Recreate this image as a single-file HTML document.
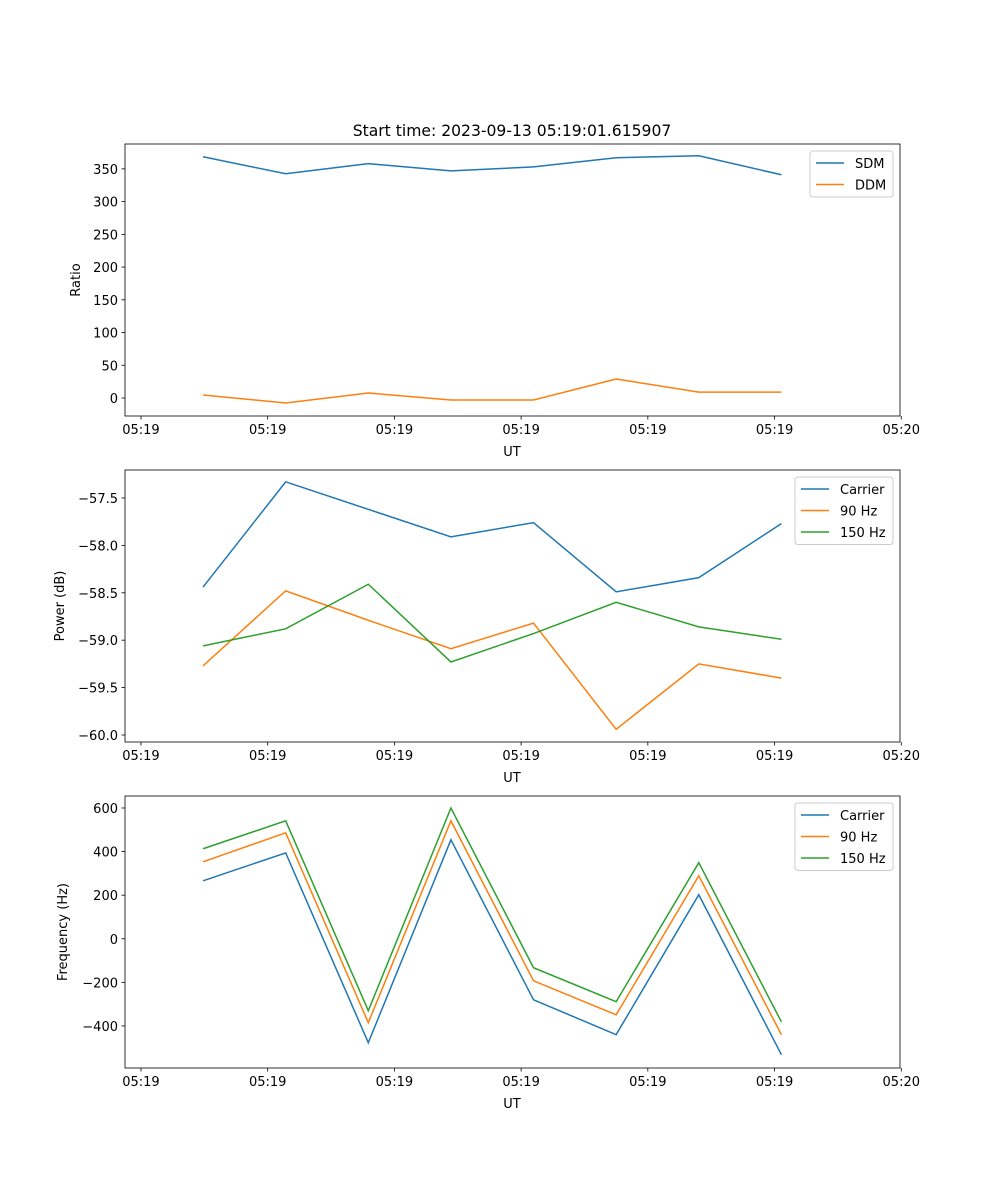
<!DOCTYPE html>
<html><head><meta charset="utf-8"><style>
html,body{margin:0;padding:0;background:#fff}
svg{display:block;font-family:"DejaVu Sans","Liberation Sans",sans-serif}
</style></head><body>
<svg id="fig" width="1000" height="1200" viewBox="0 0 1000 1200">
<text x="512" y="136" text-anchor="middle" font-size="15.6">Start time: 2023-09-13 05:19:01.615907</text>
</svg>
<script>
const times = [0, 0.652, 1.304, 1.956, 2.608, 3.26, 3.912, 4.564];
const xTickVals = [-0.49, 0.51, 1.51, 2.51, 3.51, 4.51, 5.51];
const xTickLabels = ["05:19","05:19","05:19","05:19","05:19","05:19","05:20"];
const sdm = [368.5, 342.5, 358, 347, 353, 367, 370, 341];
const ddm = [4.6, -7.6, 7.6, -3, -3, 29, 9, 9];
const ratioTicks = [0, 50, 100, 150, 200, 250, 300, 350];
const powCarrier = [-58.44, -57.33, -57.62, -57.91, -57.76, -58.49, -58.34, -57.77];
const pow90 = [-59.27, -58.48, -58.79, -59.09, -58.82, -59.94, -59.25, -59.40];
const pow150 = [-59.06, -58.88, -58.41, -59.23, -58.93, -58.60, -58.86, -58.99];
const powTicks = [-60.0, -59.5, -59.0, -58.5, -58.0, -57.5];
const freqCarrier = [266, 394, -477, 454, -280, -440, 202, -532];
const freq90 = [353, 486, -385, 541, -193, -349, 289, -440];
const freq150 = [413, 541, -330, 600, -133, -289, 349, -381];
const freqTicks = [-400, -200, 0, 200, 400, 600];

const NS = "http://www.w3.org/2000/svg";
const svg = document.getElementById('fig');
const X0 = 125, X1 = 900, XMIN = -0.616, XMAX = 5.5;
function xs(t){ return X0 + (t - XMIN) / (XMAX - XMIN) * (X1 - X0); }
function mk(tag, attrs, parent){ const e = document.createElementNS(NS, tag); for (const k in attrs) e.setAttribute(k, attrs[k]); (parent||svg).appendChild(e); return e; }
const C = ['#1f77b4','#ff7f0e','#2ca02c'];

function panel(key, top, bottom, ymin, ymax, yTicks, fmt, ylabel, series, names, legBox){
  const g = mk('g', {});
  
  
  const ys = v => bottom - (v - ymin) / (ymax - ymin) * (bottom - top);
  series.forEach((s, i) => {
    const p = mk('polyline', {points: s.map((v, j) => xs(times[j]) + ',' + ys(v)).join(' '), fill: 'none', stroke: C[i], 'stroke-width': 1.5}, g);
    
    
  });
  const fr = mk('rect', {x: X0, y: top, width: X1 - X0, height: bottom - top, fill: 'none', stroke: '#000', 'stroke-width': 0.8}, g);
  
  
  xTickVals.forEach((t, i) => {
    const x = xs(t);
    mk('line', {x1: x, x2: x, y1: bottom, y2: bottom + 3.5, stroke: '#000', 'stroke-width': 0.8}, g);
    const tx = mk('text', {x: x, y: bottom + 18, 'text-anchor': 'middle', 'font-size': 13}, g);
    tx.textContent = xTickLabels[i];
    
    
  });
  const xl = mk('text', {x: 512, y: bottom + 40, 'text-anchor': 'middle', 'font-size': 13}, g);
  xl.textContent = 'UT';
  
  
  yTicks.forEach(v => {
    const y = ys(v);
    mk('line', {x1: X0 - 3.5, x2: X0, y1: y, y2: y, stroke: '#000', 'stroke-width': 0.8}, g);
    const tx = mk('text', {x: X0 - 7, y: y + 5, 'text-anchor': 'end', 'font-size': 13}, g);
    tx.textContent = fmt(v);
    
    
  });
  const yl = mk('text', {x: legBox.ylx, y: (top + bottom) / 2, 'text-anchor': 'middle', 'font-size': 13, transform: 'rotate(-90 ' + legBox.ylx + ' ' + (top + bottom) / 2 + ')'}, g);
  yl.textContent = ylabel;
  
  
  const lg = mk('g', {}, g);
  
  
  mk('rect', {x: legBox.x, y: top + 7, width: 893 - legBox.x, height: 3 + names.length * 21.5, rx: 3, fill: '#fff', 'fill-opacity': 0.8, stroke: '#ccc', 'stroke-width': 1}, lg);
  names.forEach((n, i) => {
    const y = top + 19 + i * 21.5;
    mk('line', {x1: legBox.x + 6, x2: legBox.x + 34, y1: y, y2: y, stroke: C[i], 'stroke-width': 1.5}, lg);
    const t = mk('text', {x: legBox.x + 45, y: y + 5, 'font-size': 13}, lg);
    t.textContent = n;
    
    
  });
}
panel('ratio', 144, 416, -27.5, 388, ratioTicks, v => String(v), 'Ratio', [sdm, ddm], ['SDM', 'DDM'], {x: 810, ylx: 80});
panel('power', 470, 742, -60.074, -57.205, powTicks, v => v.toFixed(1).replace('-', '\u2212'), 'Power (dB)', [powCarrier, pow90, pow150], ['Carrier', '90 Hz', '150 Hz'], {x: 795, ylx: 64});
panel('frequency', 796, 1068, -593, 655, freqTicks, v => String(v).replace('-', '\u2212'), 'Frequency (Hz)', [freqCarrier, freq90, freq150], ['Carrier', '90 Hz', '150 Hz'], {x: 795, ylx: 67});
</script>
</body></html>
